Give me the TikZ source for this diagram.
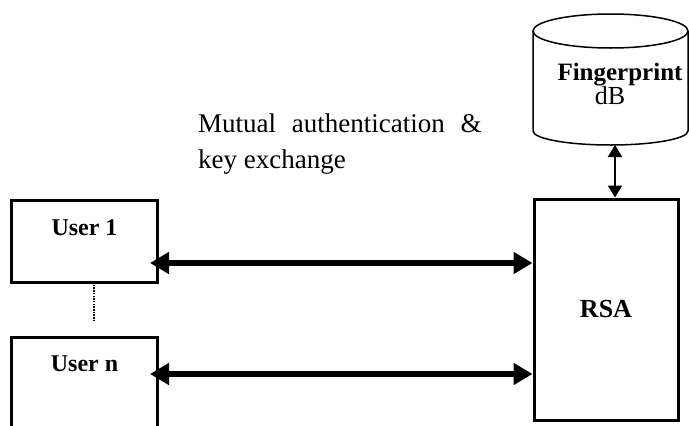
\documentclass[tikz,border=0pt]{standalone}
\usepackage{fontspec}
\setmainfont{Liberation Serif}
\usetikzlibrary{arrows.meta,calc}
\begin{document}
\begin{tikzpicture}[x=1pt,y=-1pt,
  boxline/.style={draw=black,line width=3pt},
  ubox/.style={boxline,minimum width=146pt,minimum height=82pt,inner sep=0pt},
  boldtxt/.style={font=\fontsize{24}{28}\selectfont\bfseries,inner sep=0pt,anchor=base},
  thick arrow/.style={line width=6pt,{Triangle[length=19pt,width=21pt]}-{Triangle[length=19pt,width=21pt]}},
  thin arrow/.style={line width=2pt,{Triangle[length=12pt,width=14pt]}-{Triangle[length=12pt,width=14pt]}}
]
\clip (0,0) rectangle (689,426);
\fill[white] (0,0) rectangle (689,426);

% users
\node[ubox] (u1) at (84,241) {};
\node[boldtxt] (u1t) at (84.5,235) {User 1};
\node[ubox,minimum height=110pt] (un) at (84,392) {};
\node[boldtxt] (unt) at (84.5,371) {User n};
\coordinate (dA) at (94,282);
\coordinate (dB) at (94,320);
\draw[line width=2pt,dash pattern=on 1.5pt off 1.2pt] (dA) -- (dB);

% RSA
\node[boxline,minimum width=144pt,minimum height=221pt,inner sep=0pt] (rsa) at (606,309.5) {};
\node[boldtxt,font=\fontsize{26}{30}\selectfont\bfseries] (rsat) at (606,317) {RSA};

% database cylinder
\draw[line width=1.5pt,fill=white] (533,31) -- (533,131) arc[start angle=180,end angle=360,x radius=77.5,y radius=-14] -- (688,31);
\draw[line width=1.5pt,fill=white] (610.5,31) ellipse[x radius=77.5,y radius=17];
\coordinate (dbbot) at (615,145);
\node[boldtxt,font=\fontsize{25}{30}\selectfont\bfseries] (fp) at (620,80) {Fingerprint};
\node[boldtxt,font=\fontsize{26}{30}\selectfont] (db) at (610,104) {dB};

% arrows
\draw[thin arrow] (dbbot) -- (dbbot |- rsa.north);
\coordinate (a1) at (150,263);
\coordinate (a2) at (150,374);
\draw[thick arrow] (a1) -- (a1 -| rsa.west);
\draw[thick arrow] (a2) -- (a2 -| rsa.west);

% label
\node[anchor=base west,inner sep=0pt,align=left,font=\fontsize{27}{36}\selectfont] (lbl) at (198,168)
  {Mutual\hspace{0.58em}authentication\hspace{0.58em}\&\\key exchange};
\end{tikzpicture}
\end{document}
